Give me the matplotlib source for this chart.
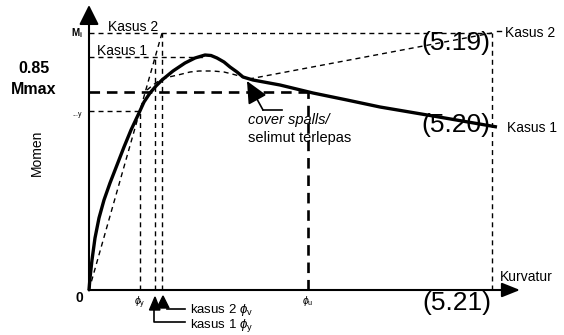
import numpy as np
import matplotlib
matplotlib.use('Agg')
import matplotlib.pyplot as plt

plt.rcParams['font.family'] = ['Liberation Sans', 'DejaVu Sans']
plt.rcParams['mathtext.fontset'] = 'custom'
plt.rcParams['mathtext.it'] = 'Liberation Sans:italic'
plt.rcParams['mathtext.rm'] = 'Liberation Sans'

# moment levels (diagram units)
M_i = 257
M_k1 = 233
M_085 = 198
M_y = 179
# curvature levels
phi_y = 51
phi_y1 = 66
phi_y2 = 73
phi_u = 219
phi_end = 403
x_axis_end = 431
y_axis_end = 285

# thick solid curve
curve_x = [0, 1, 3, 6, 10, 15, 21, 28, 35, 42, 50, 55, 61, 67, 73, 84, 96, 106, 116,
           122, 128, 135, 141, 148, 154, 164, 191, 224, 258, 291, 350, 408]
curve_y = [0, 12, 30, 52, 72, 90, 107, 125, 143, 160, 177, 188, 197, 204, 210, 219, 227,
           232, 235, 234.5, 232, 228, 223, 218, 213, 210, 205, 197, 190, 183, 173, 163]

# dashed case-1 curve and case-2 line
k1_x = [58, 64, 71, 80, 91, 101, 110, 124, 135, 145, 152, 160]
k1_y = [200, 205, 210, 213, 215.5, 218, 219, 219, 218, 215.5, 213.5, 211]
k2_x = [160, phi_end]
k2_y = [211, M_i]
elastic_x = [0, phi_y2]
elastic_y = [0, M_i]

fig = plt.figure(figsize=(5.64, 3.35), dpi=100)
ax = fig.add_axes([0, 0, 1, 1])
ax.set_xlim(-89, 475)
ax.set_ylim(-45, 290)
ax.axis('off')

thin = dict(color='k', lw=1.0, linestyle=(0, (3.6, 2.9)))
thick = dict(color='k', lw=1.9, linestyle=(0, (4, 2.6)))

# axes with arrows
ax.annotate('', xy=(0, y_axis_end), xytext=(0, -0.5),
            arrowprops=dict(arrowstyle='-|>,head_length=0.6,head_width=0.3',
                            lw=1.5, color='k', mutation_scale=20, shrinkA=0, shrinkB=0))
ax.annotate('', xy=(x_axis_end, 0), xytext=(-0.5, 0),
            arrowprops=dict(arrowstyle='-|>,head_length=0.55,head_width=0.22',
                            lw=1.5, color='k', mutation_scale=20, shrinkA=0, shrinkB=0))

# guide lines
ax.plot([0, phi_end], [M_i, M_i], **thin)
ax.plot([phi_end, phi_end], [0, M_i], **thin)
ax.plot([0, 116], [M_k1, M_k1], **thin)
ax.plot([0, phi_y], [M_y, M_y], **thin)
ax.plot([phi_y, phi_y], [0, M_y], **thin)
ax.plot([phi_y1, phi_y1], [0, M_k1], **thin)
ax.plot([phi_y2, phi_y2], [0, M_i], **thin)
ax.plot(elastic_x, elastic_y, **thin)
ax.plot(k1_x, k1_y, **thin)
ax.plot(k2_x, k2_y, **thin)
ax.plot([0, phi_u], [M_085, M_085], **thick)
ax.plot([phi_u, phi_u], [0, M_085], **thick)

# main curve
ax.plot(curve_x, curve_y, color='k', lw=2.4, solid_joinstyle='round', solid_capstyle='butt')

# spalling arrow
ax.plot([193, 174], [180, 180], color='k', lw=1.2)
ax.annotate('', xy=(158, 209), xytext=(174, 180),
            arrowprops=dict(arrowstyle='-|>,head_length=0.75,head_width=0.35',
                            lw=1.2, color='k', mutation_scale=18, shrinkA=0, shrinkB=0))
ax.text(159, 170, 'cover spalls/', fontsize=10.5, style='italic', ha='left', va='center')
ax.text(159, 152, 'selimut terlepas', fontsize=10.5, ha='left', va='center')

# left labels
ax.text(-55, 211, '0.85\nMmax', fontsize=11.5, fontweight='bold', ha='center', va='center',
        linespacing=1.45)
ax.text(-52, 137, 'Momen', fontsize=10, rotation=90, ha='center', va='center')
ax.text(-12, M_i, r'M$_\mathregular{i}$', fontsize=7, fontweight='bold', ha='center', va='center')
ax.text(-12, 176, '...y', fontsize=5, ha='center', va='center')
ax.text(-10, -8, '0', fontsize=10, fontweight='bold', ha='center', va='center')

# case labels
ax.text(44, 263, 'Kasus 2', fontsize=10, ha='center', va='center')
ax.text(33, 239, 'Kasus 1', fontsize=10, ha='center', va='center')
ax.plot([408, 412], [M_i + 2, M_i + 2], color='k', lw=1.0)
ax.text(416, M_i, 'Kasus 2', fontsize=10, ha='left', va='center')
ax.text(418, 162, 'Kasus 1', fontsize=10, ha='left', va='center')
ax.text(411, 13, 'Kurvatur', fontsize=10, ha='left', va='center')

# equation numbers
ax.text(367, 247, '(5.19)', fontsize=19, ha='center', va='center')
ax.text(367, 165, '(5.20)', fontsize=19, ha='center', va='center')
ax.text(368, -13, '(5.21)', fontsize=19, ha='center', va='center')

# curvature marks
ax.text(phi_y, -13, r'$\phi_\mathregular{y}$', fontsize=7.5, ha='center', va='center')
ax.text(phi_u, -11, r'$\phi_\mathregular{u}$', fontsize=7.5, ha='center', va='center')
ax.fill([phi_y1 - 5.5, phi_y1, phi_y1 + 5], [-20, -7, -20], color='k')
ax.fill([phi_y2 - 5, phi_y2 + 1, phi_y2 + 7], [-18, -6, -18], color='k')
ax.plot([phi_y2 + 5, 96], [-19, -19], color='k', lw=1.2)
ax.plot([phi_y1 - 1, phi_y1 - 1, 96], [-20, -32, -32], color='k', lw=1.2)
ax.text(101, -19.5, r'kasus 2 $\phi_\mathregular{v}$', fontsize=9.5, ha='left', va='center')
ax.text(101, -35, r'kasus 1 $\phi_\mathregular{y}$', fontsize=9.5, ha='left', va='center')

fig.savefig('out.png', dpi=100)
